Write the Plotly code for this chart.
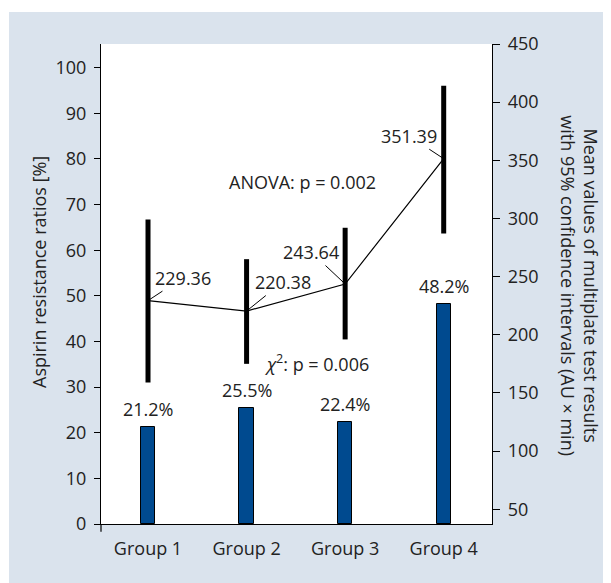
import plotly.graph_objects as go

groups = ["Group 1", "Group 2", "Group 3", "Group 4"]
resistance_pct = [21.2, 25.5, 22.4, 48.2]
resistance_labels = ["21.2%", "25.5%", "22.4%", "48.2%"]
mean_values = [229.36, 220.38, 243.64, 351.39]
mean_labels = ["229.36", "220.38", "243.64", "351.39"]
ci_upper = [299, 265, 292, 414]
ci_lower = [159, 175, 196, 287]
left_ticks = [0, 10, 20, 30, 40, 50, 60, 70, 80, 90, 100]
right_ticks = [50, 100, 150, 200, 250, 300, 350, 400, 450]

# label offsets (pixels) for the mean-value labels
label_offsets = [(35, -23), (36, -29), (-34, -32), (-35, -23)]

FONT = "Open Sans"
TXT = "#222222"
OFF = 8  # page body margin
W, H = 611 - OFF, 583 - OFF
ML, MR, MT, MB = 101 - OFF, 119, 44 - OFF, 59
PW = W - ML - MR
PH = H - MT - MB


def px2paper_x(px):
    return (px - OFF - ML) / PW


def px2paper_y(py):
    return (H - MB - (py - OFF)) / PH


fig = go.Figure()

fig.add_trace(go.Bar(
    x=groups, y=resistance_pct, width=0.145,
    marker=dict(color="#004A8F", line=dict(color="#000000", width=1)),
    yaxis="y", hoverinfo="skip", showlegend=False,
))

fig.add_trace(go.Scatter(
    x=groups, y=mean_values, mode="markers",
    marker=dict(size=1, color="rgba(0,0,0,0)"),
    error_y=dict(type="data", symmetric=False,
                 array=[u - m for u, m in zip(ci_upper, mean_values)],
                 arrayminus=[m - l for m, l in zip(mean_values, ci_lower)],
                 thickness=5, width=0, color="#000000"),
    yaxis="y2", hoverinfo="skip", showlegend=False,
))

fig.add_trace(go.Scatter(
    x=groups, y=mean_values, mode="lines",
    line=dict(color="#000000", width=1.2),
    yaxis="y2", hoverinfo="skip", showlegend=False,
))

annotations = []
for g, v, t in zip(groups, resistance_pct, resistance_labels):
    annotations.append(dict(x=g, y=v, xref="x", yref="y", text=t, showarrow=False,
                            xanchor="center", yanchor="bottom", yshift=4,
                            font=dict(family=FONT, size=18, color=TXT)))
for g, v, t, (ax, ay) in zip(groups, mean_values, mean_labels, label_offsets):
    annotations.append(dict(x=g, y=v, xref="x", yref="y2", text=t, showarrow=True,
                            arrowhead=0, arrowwidth=1, arrowcolor="#000000",
                            ax=ax, ay=ay, standoff=1,
                            font=dict(family=FONT, size=18, color=TXT)))

annotations.append(dict(x=px2paper_x(302.7), y=px2paper_y(182.3), xref="paper", yref="paper",
                        text="ANOVA: p = 0.002", showarrow=False,
                        xanchor="center", yanchor="middle",
                        font=dict(family=FONT, size=18, color=TXT)))
annotations.append(dict(x=px2paper_x(316.7), y=px2paper_y(362.7), xref="paper", yref="paper",
                        text="<i>χ</i><sup>2</sup>: p = 0.006", showarrow=False,
                        xanchor="center", yanchor="middle",
                        font=dict(family=FONT, size=18, color=TXT)))
annotations.append(dict(x=px2paper_x(39), y=px2paper_y(272), xref="paper", yref="paper",
                        text="Aspirin resistance ratios [%]", showarrow=False, textangle=-90,
                        xanchor="center", yanchor="middle",
                        font=dict(family=FONT, size=18, color=TXT)))
annotations.append(dict(x=px2paper_x(580), y=px2paper_y(285.3), xref="paper", yref="paper",
                        text="Mean values of multiplate test results<br>with 95% confidence intervals (AU × min)",
                        showarrow=False, textangle=90, xanchor="center", yanchor="middle",
                        font=dict(family=FONT, size=18, color=TXT)))

shapes = [
    dict(type="rect", xref="paper", yref="paper", x0=-0.5, x1=1.5,
         y0=px2paper_y(12), y1=px2paper_y(-20), fillcolor="white", line=dict(width=0), layer="below"),
    dict(type="rect", xref="paper", yref="paper", x0=px2paper_x(-20), x1=px2paper_x(9),
         y0=px2paper_y(620), y1=px2paper_y(-20), fillcolor="white", line=dict(width=0), layer="below"),
    dict(type="line", xref="paper", yref="paper", x0=0, x1=0,
         y0=0, y1=px2paper_y(531.7), line=dict(color="#000000", width=1.2)),
]

fig.update_layout(
    width=W, height=H,
    margin=dict(l=ML, r=MR, t=MT, b=MB),
    paper_bgcolor="#DAE3ED", plot_bgcolor="#FFFFFF",
    font=dict(family=FONT, size=18, color=TXT),
    showlegend=False,
    bargap=0,
    xaxis=dict(type="category", range=[-0.477, 3.49], showline=True, linecolor="#000000",
               linewidth=1.2, ticks="", showgrid=False, zeroline=False,
               tickfont=dict(family=FONT, size=18, color=TXT), ticklabelstandoff=8),
    yaxis=dict(range=[0, 105.2], tickvals=left_ticks, ticks="outside", ticklen=6,
               tickcolor="#000000", tickwidth=1.2, showline=True, linecolor="#000000",
               linewidth=1.2, showgrid=False, zeroline=False,
               tickfont=dict(family=FONT, size=18, color=TXT), ticklabelstandoff=4),
    yaxis2=dict(range=[37.3, 450], tickvals=right_ticks, overlaying="y", side="right",
                ticks="outside", ticklen=7, tickcolor="#000000", tickwidth=1.2,
                showline=True, linecolor="#000000", linewidth=1.2, showgrid=False,
                zeroline=False, tickfont=dict(family=FONT, size=18, color=TXT),
                ticklabelstandoff=4),
    annotations=annotations,
    shapes=shapes,
)

fig.write_html("out.html")
